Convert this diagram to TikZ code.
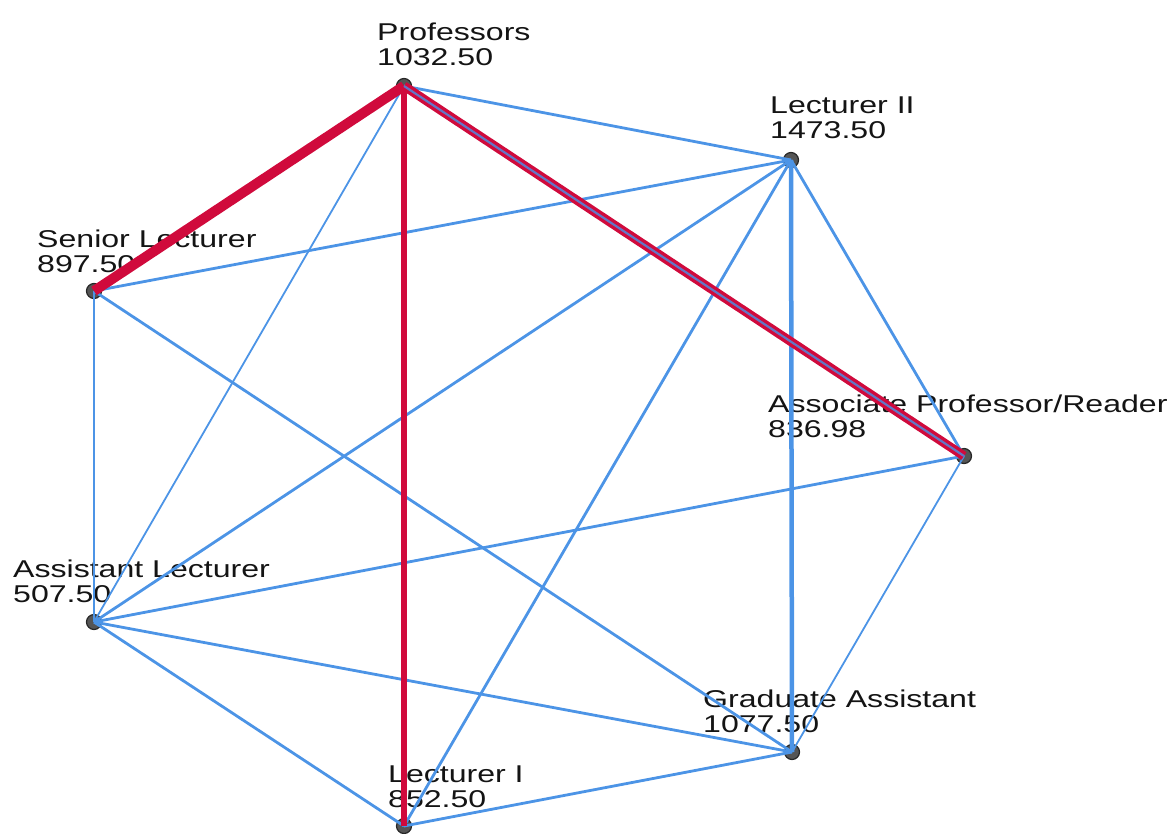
\documentclass[tikz,border=0pt]{standalone}
\usepackage{fontspec}
\newfontfamily\labfont[FakeStretch=1.32]{Liberation Sans}
\definecolor{edgeblue}{HTML}{4C94E6}
\definecolor{edgered}{HTML}{D00A3C}
\definecolor{dotfill}{HTML}{555555}
\definecolor{dotline}{HTML}{262626}
\begin{document}
\begin{tikzpicture}[x=1pt,y=-1pt,
  dot/.style={circle,fill=dotfill,draw=dotline,line width=1.2pt,inner sep=0pt,minimum size=15pt},
  lab/.style={anchor=base west,inner sep=0pt,text=black!92,font=\labfont\fontsize{24.3}{25.5}\selectfont},
  blue/.style={draw=edgeblue,line width=2.8pt},
  bluethin/.style={draw=edgeblue,line width=1.8pt},
  bluethick/.style={draw=edgeblue,line width=4.5pt},
  redA/.style={draw=edgered,line width=10pt},
  redB/.style={draw=edgered,line width=5.5pt},
  redC/.style={draw=edgered,line width=9pt},
  core/.style={draw=edgeblue!80!purple,line width=2.2pt}]
\useasboundingbox (0,0) rectangle (1169,833);
% labels
\node[lab] (tp) at (377,40) {\begin{tabular}[t]{@{}l@{}}Professors\\1032.50\end{tabular}};
\node[lab] (tl2) at (770,113) {\begin{tabular}[t]{@{}l@{}}Lecturer II\\1473.50\end{tabular}};
\node[lab] (tsl) at (37,247) {\begin{tabular}[t]{@{}l@{}}Senior Lecturer\\897.50\end{tabular}};
\node[lab] (tap) at (768,412) {\begin{tabular}[t]{@{}l@{}}Associate Professor/Reader\\836.98\end{tabular}};
\node[lab] (tal) at (13,577) {\begin{tabular}[t]{@{}l@{}}Assistant Lecturer\\507.50\end{tabular}};
\node[lab] (tga) at (703,707) {\begin{tabular}[t]{@{}l@{}}Graduate Assistant\\1077.50\end{tabular}};
\node[lab] (tl1) at (388,782) {\begin{tabular}[t]{@{}l@{}}Lecturer I\\852.50\end{tabular}};
% dots
\node[dot] (p) at (404,86) {};
\node[dot] (l2) at (791,160) {};
\node[dot] (sl) at (94,291) {};
\node[dot] (ap) at (964,456) {};
\node[dot] (al) at (94,622) {};
\node[dot] (ga) at (792,752) {};
\node[dot] (l1) at (404,826) {};
% blue edges
\draw[blue] (p.center) -- (l2.center);
\draw[bluethin] (p.center) -- (al.center);
\draw[blue] (l2.center) -- (sl.center);
\draw[blue] (l2.center) -- (al.center);
\draw[blue] (l2.center) -- (l1.center);
\draw[bluethick] (l2.center) -- (ga.center);
\draw[blue] (l2.center) -- (ap.center);
\draw[blue] (sl.center) -- (al.center);
\draw[blue] (sl.center) -- (ga.center);
\draw[blue] (ap.center) -- (al.center);
\draw[bluethin] (ap.center) -- (ga.center);
\draw[blue] (al.center) -- (ga.center);
\draw[blue] (al.center) -- (l1.center);
\draw[blue] (l1.center) -- (ga.center);
% red edges
\draw[redA] (p.center) -- (sl.center);
\draw[redB] (p.center) -- (l1.center);
\draw[redC] (p.center) -- (ap.center);
\draw[core] (p.center) -- (ap.center);
\end{tikzpicture}
\end{document}
